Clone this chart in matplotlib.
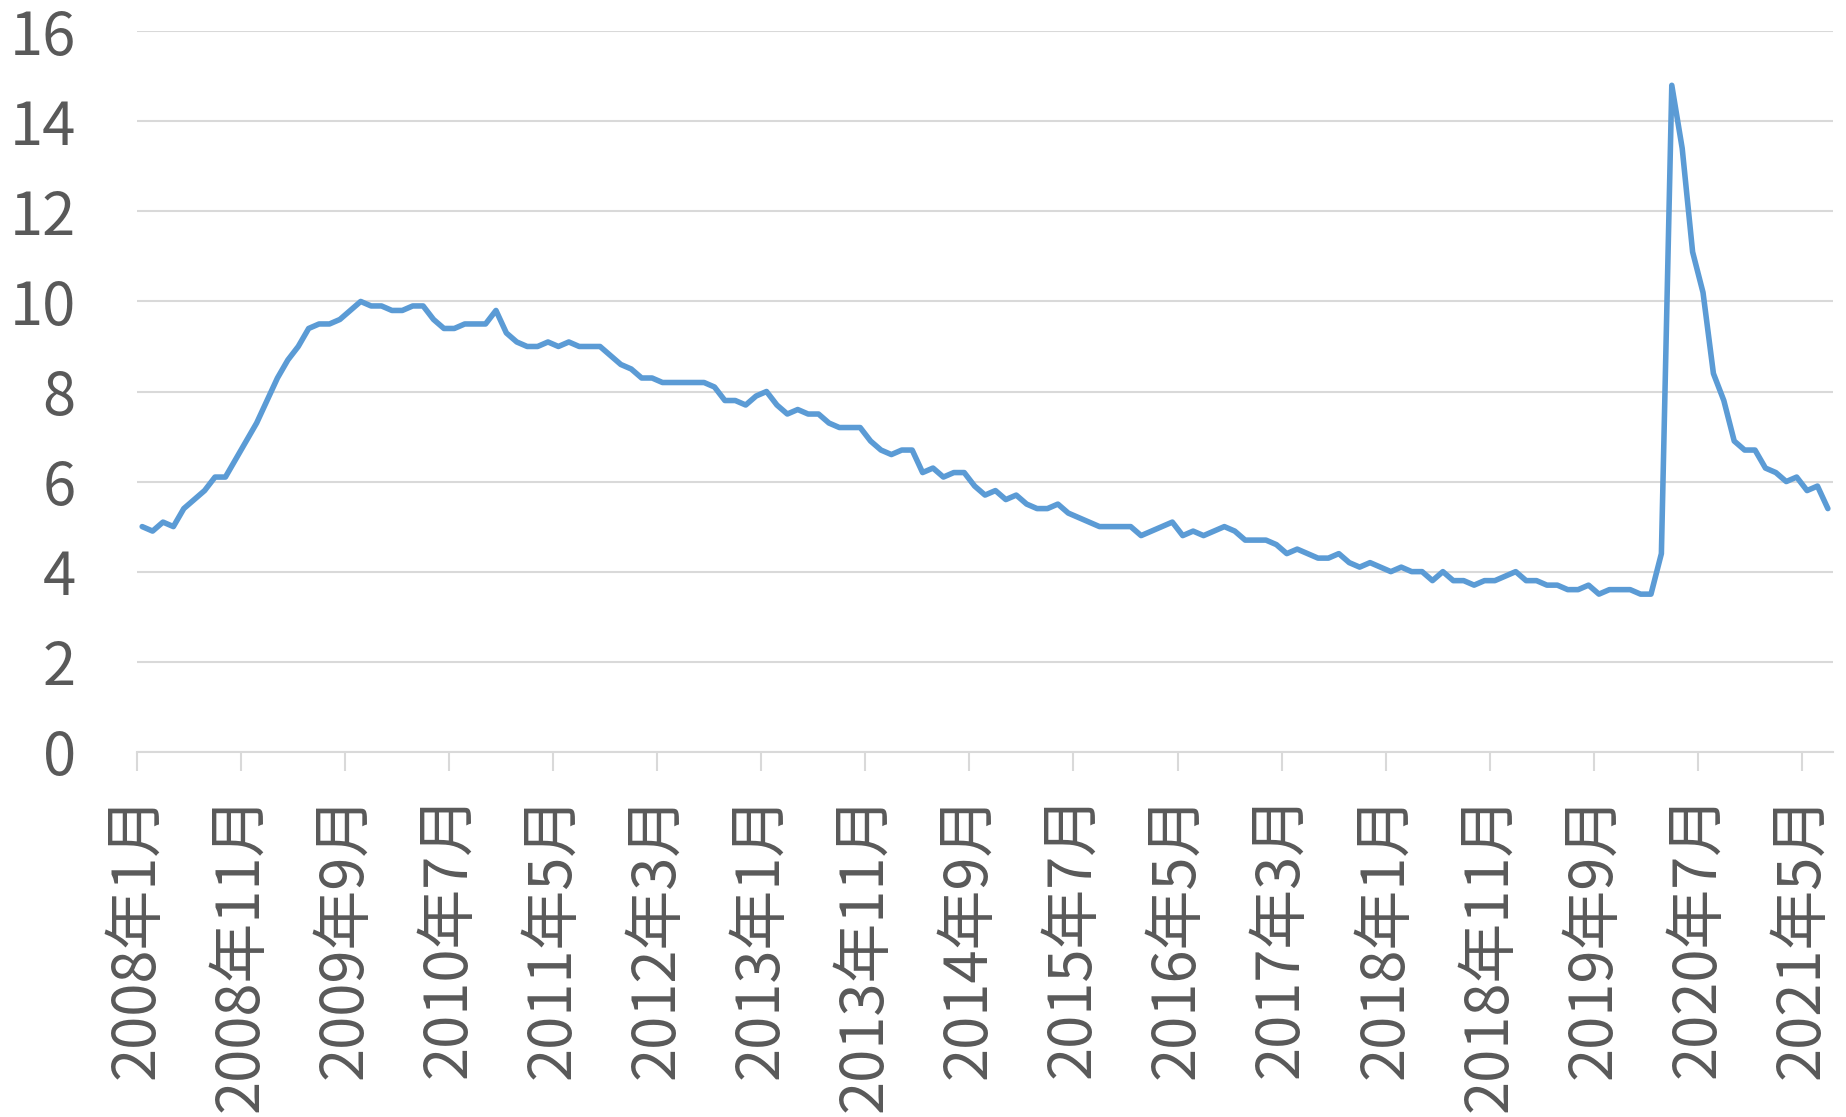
import matplotlib.pyplot as plt

plt.rcParams['font.family'] = ['Noto Sans CJK SC', 'DejaVu Sans']

# 美国失业率 (%), 2008年1月 - 2021年7月, 月度
rate_2008 = [5.0, 4.9, 5.1, 5.0, 5.4, 5.6, 5.8, 6.1, 6.1, 6.5, 6.9, 7.3]
rate_2009 = [7.8, 8.3, 8.7, 9.0, 9.4, 9.5, 9.5, 9.6, 9.8, 10.0, 9.9, 9.9]
rate_2010 = [9.8, 9.8, 9.9, 9.9, 9.6, 9.4, 9.4, 9.5, 9.5, 9.5, 9.8, 9.3]
rate_2011 = [9.1, 9.0, 9.0, 9.1, 9.0, 9.1, 9.0, 9.0, 9.0, 8.8, 8.6, 8.5]
rate_2012 = [8.3, 8.3, 8.2, 8.2, 8.2, 8.2, 8.2, 8.1, 7.8, 7.8, 7.7, 7.9]
rate_2013 = [8.0, 7.7, 7.5, 7.6, 7.5, 7.5, 7.3, 7.2, 7.2, 7.2, 6.9, 6.7]
rate_2014 = [6.6, 6.7, 6.7, 6.2, 6.3, 6.1, 6.2, 6.2, 5.9, 5.7, 5.8, 5.6]
rate_2015 = [5.7, 5.5, 5.4, 5.4, 5.5, 5.3, 5.2, 5.1, 5.0, 5.0, 5.0, 5.0]
rate_2016 = [4.8, 4.9, 5.0, 5.1, 4.8, 4.9, 4.8, 4.9, 5.0, 4.9, 4.7, 4.7]
rate_2017 = [4.7, 4.6, 4.4, 4.5, 4.4, 4.3, 4.3, 4.4, 4.2, 4.1, 4.2, 4.1]
rate_2018 = [4.0, 4.1, 4.0, 4.0, 3.8, 4.0, 3.8, 3.8, 3.7, 3.8, 3.8, 3.9]
rate_2019 = [4.0, 3.8, 3.8, 3.7, 3.7, 3.6, 3.6, 3.7, 3.5, 3.6, 3.6, 3.6]
rate_2020 = [3.5, 3.5, 4.4, 14.8, 13.4, 11.1, 10.2, 8.4, 7.8, 6.9, 6.7, 6.7]
rate_2021 = [6.3, 6.2, 6.0, 6.1, 5.8, 5.9, 5.4]

rate = (rate_2008 + rate_2009 + rate_2010 + rate_2011 + rate_2012 + rate_2013
        + rate_2014 + rate_2015 + rate_2016 + rate_2017 + rate_2018 + rate_2019
        + rate_2020 + rate_2021)

months = []
for y in range(2008, 2022):
    for m in range(1, 13):
        months.append(f"{y}年{m}月")
months = months[:len(rate)]

fig = plt.figure(figsize=(18.46, 11.17), dpi=100)
ax = fig.add_axes([0.0742, 0.327, 0.9188, 0.645])

x = list(range(len(rate)))
ax.plot(x, rate, color='#5B9BD5', lw=4, solid_joinstyle='round', solid_capstyle='round', zorder=3)

ax.set_xlim(-0.5, len(rate) - 0.5)
ax.set_ylim(0, 16)
ax.set_yticks(range(0, 17, 2))
ax.grid(axis='y', color='#D9D9D9', lw=1.5)
ax.set_axisbelow(True)

tick_pos = [i - 0.5 for i in range(0, len(rate), 10)]
ax.set_xticks(tick_pos)
ax.set_xticklabels([months[i] for i in range(0, len(rate), 10)], rotation=90)

for s in ['top', 'right', 'left']:
    ax.spines[s].set_visible(False)
ax.spines['bottom'].set_color('#D9D9D9')
ax.spines['bottom'].set_linewidth(1.5)

ax.tick_params(axis='x', length=14, width=1.5, color='#D9D9D9', pad=16,
               labelsize=43, labelcolor='#595959')
ax.tick_params(axis='y', length=0, pad=44, labelsize=43, labelcolor='#595959')

fig.savefig('out.png', dpi=100)
